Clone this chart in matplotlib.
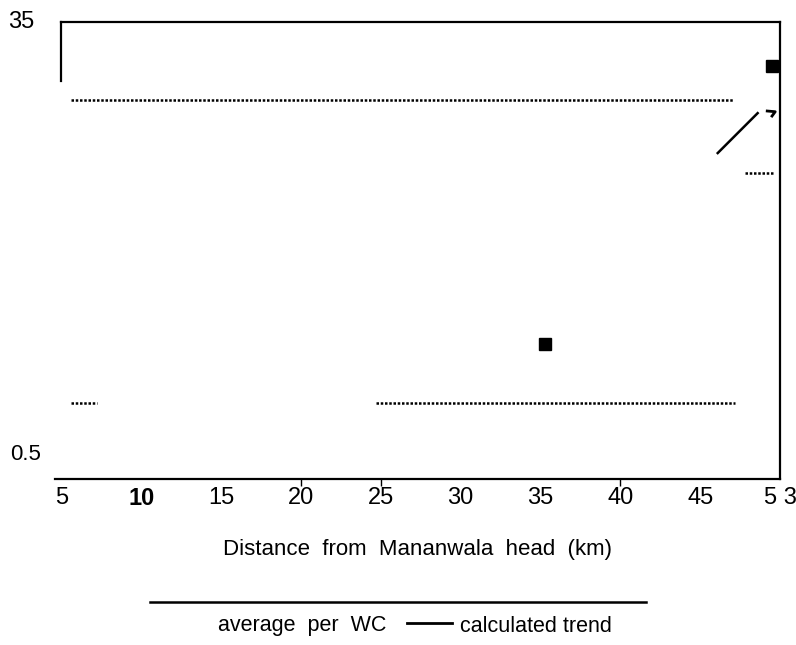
import matplotlib.pyplot as plt
from matplotlib.lines import Line2D

plt.rcParams['font.family'] = ['Liberation Sans', 'DejaVu Sans']

# data (distance in km, value on log axis)
square_x = [49.5, 35.3]
square_y = [23.2, 1.75]

# dotted "average per WC" pieces: (x start, x end, level)
dot_x0 = [5.6, 47.8, 5.6, 24.7]
dot_x1 = [47.1, 49.6, 7.2, 47.2]
dot_y = [16.9, 8.6, 1.01, 1.01]

# calculated trend segment
trend_x = [46.1, 48.6]
trend_y = [10.35, 15.0]

xticks = [5, 10, 15, 20, 25, 30, 35, 40, 45, 50]
xtick_labels = ["5", "10", "15", "20", "25", "30", "35", "40", "45", "5 3"]

fig = plt.figure(figsize=(7.96, 6.45), dpi=100)
ax = fig.add_axes([55 / 796, 1 - 479 / 645, 725 / 796, 457 / 645])

ax.set_yscale('log')
ax.set_xlim(4.6, 50)
ax.set_ylim(0.5, 35)

for x0, x1, y in zip(dot_x0, dot_x1, dot_y):
    ax.plot([x0, x1], [y, y], color='black', lw=1.8, linestyle=(0, (1, 0.7)))

ax.plot(trend_x, trend_y, color='black', lw=1.8)
ax.plot([49.2, 49.7, 49.5], [15.3, 15.2, 14.6], color='black', lw=2)  # stray mark
ax.plot(square_x, square_y, 's', color='black', markersize=8)

# spines as in the scan
ax.spines['left'].set_position(('data', 5))
ax.spines['left'].set_bounds(20.2, 35)
ax.spines['top'].set_bounds(5, 50)
for s in ax.spines.values():
    s.set_linewidth(1.6)

ax.set_yticks([])
ax.set_yticks([], minor=True)
ax.xaxis.remove_overlapping_locs = False
ax.set_xticks(xticks)
ax.set_xticklabels(xtick_labels, fontsize=17)
ax.get_xticklabels()[1].set_fontweight('bold')
ax.tick_params(axis='x', which='major', length=0, pad=6)
ax.set_xticks([20, 25, 40], minor=True)
ax.tick_params(axis='x', which='minor', length=5, width=1, direction='out', labelbottom=False)
ax.set_xlabel("Distance  from  Mananwala  head  (km)", fontsize=16, labelpad=21)

fig.text(8 / 796, 1 - 22 / 645, "35", fontsize=17, ha='left', va='center')
fig.text(10 / 796, 1 - 455 / 645, "0.5", fontsize=16, ha='left', va='center')

# legend area
fig.add_artist(Line2D([150 / 796, 646 / 796], [1 - 602 / 645] * 2, color='black', lw=1.8))
fig.text(218 / 796, 1 - 626 / 645, "average  per  WC", fontsize=15.5, ha='left', va='center')
fig.add_artist(Line2D([407 / 796, 452 / 796], [1 - 623 / 645] * 2, color='black', lw=2))
fig.text(460 / 796, 1 - 626 / 645, "calculated trend", fontsize=15.5, ha='left', va='center')

fig.savefig("out.png", dpi=100)
